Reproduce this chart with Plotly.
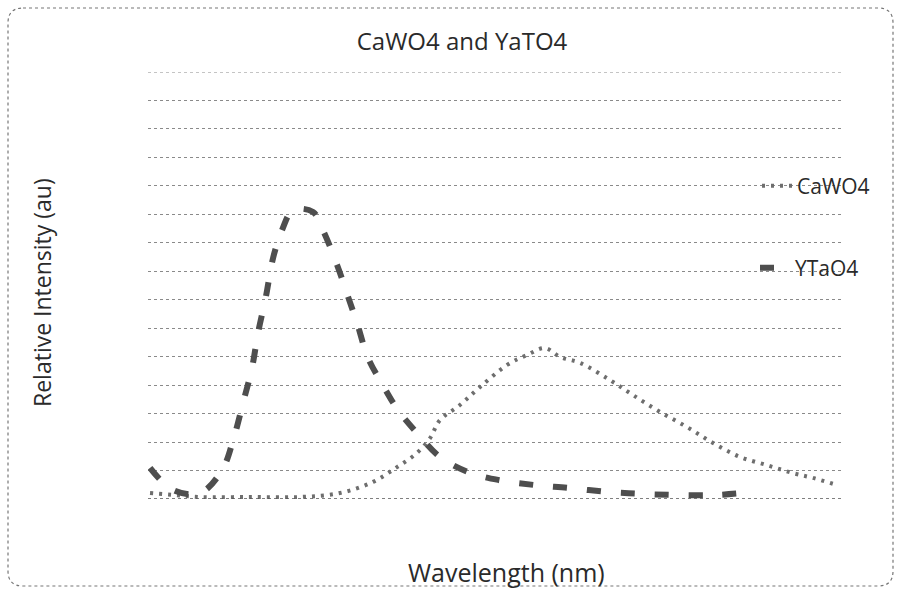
import plotly.graph_objects as go

# ---- data (x axis has no tick labels, wavelength scale estimated) ----
cawo4_wavelength = [280.7, 289.3, 298.0, 315.2, 332.5, 346.3, 357.7, 366.0, 372.9, 377.4,
                    380.8, 387.7, 394.6, 404.0, 410.9, 417.1, 422.3, 429.2, 439.5, 447.5,
                    456.8, 466.1, 475.1, 484.4, 493.7, 502.7, 509.6, 517.9]
cawo4_intensity = [0.21, 0.14, 0.07, 0.07, 0.07, 0.21, 0.60, 1.12, 1.62, 2.14,
                   2.77, 3.30, 3.93, 4.71, 5.06, 5.30, 4.99, 4.78, 4.18, 3.65,
                   3.06, 2.53, 1.97, 1.48, 1.19, 0.91, 0.74, 0.49]

ytao4_wavelength = [280.7, 288.6, 298.0, 305.6, 309.7, 312.8, 315.9, 318.0, 320.7, 323.2,
                    326.3, 330.1, 337.0, 340.4, 345.3, 349.1, 352.2, 356.0, 361.1, 366.3,
                    372.9, 380.8, 390.5, 400.9, 413.6, 425.0, 438.5, 450.6, 463.0, 475.8, 485.1]
ytao4_intensity = [1.09, 0.32, 0.21, 1.02, 2.18, 3.37, 4.60, 5.83, 7.10, 8.47,
                   9.45, 10.15, 10.08, 9.45, 8.22, 7.10, 6.18, 4.95, 4.00, 3.13,
                   2.32, 1.48, 0.95, 0.67, 0.49, 0.39, 0.25, 0.18, 0.14, 0.14, 0.21]

title_text = "CaWO4 and YaTO4"
x_title = "Wavelength (nm)"
y_title = "Relative Intensity (au)"
y_max = 15

FONT = "Open Sans"
TXT = "#2a2a2a"
GRID = "#8a8a8a"

fig = go.Figure()
fig.add_trace(go.Scatter(
    x=cawo4_wavelength, y=cawo4_intensity, name="CaWO4", mode="lines",
    line=dict(color="#6e6e6e", width=4, dash="3px,6px", shape="spline"),
    legend="legend", showlegend=True,
))
fig.add_trace(go.Scatter(
    x=ytao4_wavelength, y=ytao4_intensity, name="YTaO4", mode="lines",
    line=dict(color="#4e4e4e", width=6, dash="14px,20px", shape="spline"),
    legend="legend2", showlegend=True,
))

# plot area: left 148, right 843, top 72, bottom 499 (px)
L, R, T, B = 148, 843, 72, 499
W, H = R - L, B - T

def px2paper(px, py):
    return (px - L) / W, (B - py) / H

X0, Y1 = px2paper(8, 8)
X1, Y0 = px2paper(893, 586)
rx, ry = 15 / W, 15 / H
border = (f"M {X0+rx},{Y1} L {X1-rx},{Y1} Q {X1},{Y1} {X1},{Y1-ry} "
          f"L {X1},{Y0+ry} Q {X1},{Y0} {X1-rx},{Y0} "
          f"L {X0+rx},{Y0} Q {X0},{Y0} {X0},{Y0+ry} "
          f"L {X0},{Y1-ry} Q {X0},{Y1} {X0+rx},{Y1} Z")

xt_x, xt_y = px2paper(506, 572)
yt_x, yt_y = px2paper(42, 293)
lg1_x, lg1_y = px2paper(757, 186)
lg2_x, lg2_y = px2paper(755, 268)

fig.update_layout(
    width=899, height=590,
    margin=dict(l=L, r=899 - R, t=T, b=590 - B, autoexpand=False),
    paper_bgcolor="white", plot_bgcolor="white",
    font=dict(family=FONT, color=TXT),
    showlegend=True,
    title=dict(text=title_text, x=462 / 899, xanchor="center", y=1 - 42 / 590, yanchor="middle",
               font=dict(size=24, family=FONT, color=TXT)),
    xaxis=dict(range=[280, 520], showgrid=False, zeroline=False, showticklabels=False,
               ticks="", showline=False),
    yaxis=dict(range=[0, y_max], dtick=1, showgrid=True, gridcolor=GRID, griddash="dot",
               gridwidth=1, zeroline=False, showticklabels=False, ticks="", showline=False),
    legend=dict(x=lg1_x, y=lg1_y, xanchor="left", yanchor="middle", bgcolor="rgba(0,0,0,0)",
                font=dict(size=21, family=FONT, color=TXT)),
    legend2=dict(x=lg2_x, y=lg2_y, xanchor="left", yanchor="middle", bgcolor="rgba(0,0,0,0)",
                 font=dict(size=21, family=FONT, color=TXT)),
    shapes=[
        dict(type="path", xref="paper", yref="paper", path=border,
             line=dict(color="#777777", width=1.2, dash="dot")),
        dict(type="line", xref="paper", yref="y", x0=0, x1=1, y0=y_max, y1=y_max,
             line=dict(color=GRID, width=1, dash="dot")),
        dict(type="line", xref="paper", yref="y", x0=0, x1=1, y0=0, y1=0,
             line=dict(color="#555555", width=1.5, dash="dot")),
    ],
    annotations=[
        dict(text=x_title, xref="paper", yref="paper", x=xt_x, y=xt_y, xanchor="center",
             yanchor="middle", showarrow=False, font=dict(size=25, family=FONT, color=TXT)),
        dict(text=y_title, xref="paper", yref="paper", x=yt_x, y=yt_y, xanchor="center",
             yanchor="middle", showarrow=False, textangle=-90,
             font=dict(size=23, family=FONT, color=TXT)),
    ],
)

fig.write_html("out.html", config={"displayModeBar": False},
               post_script="document.body.style.margin='0';")
